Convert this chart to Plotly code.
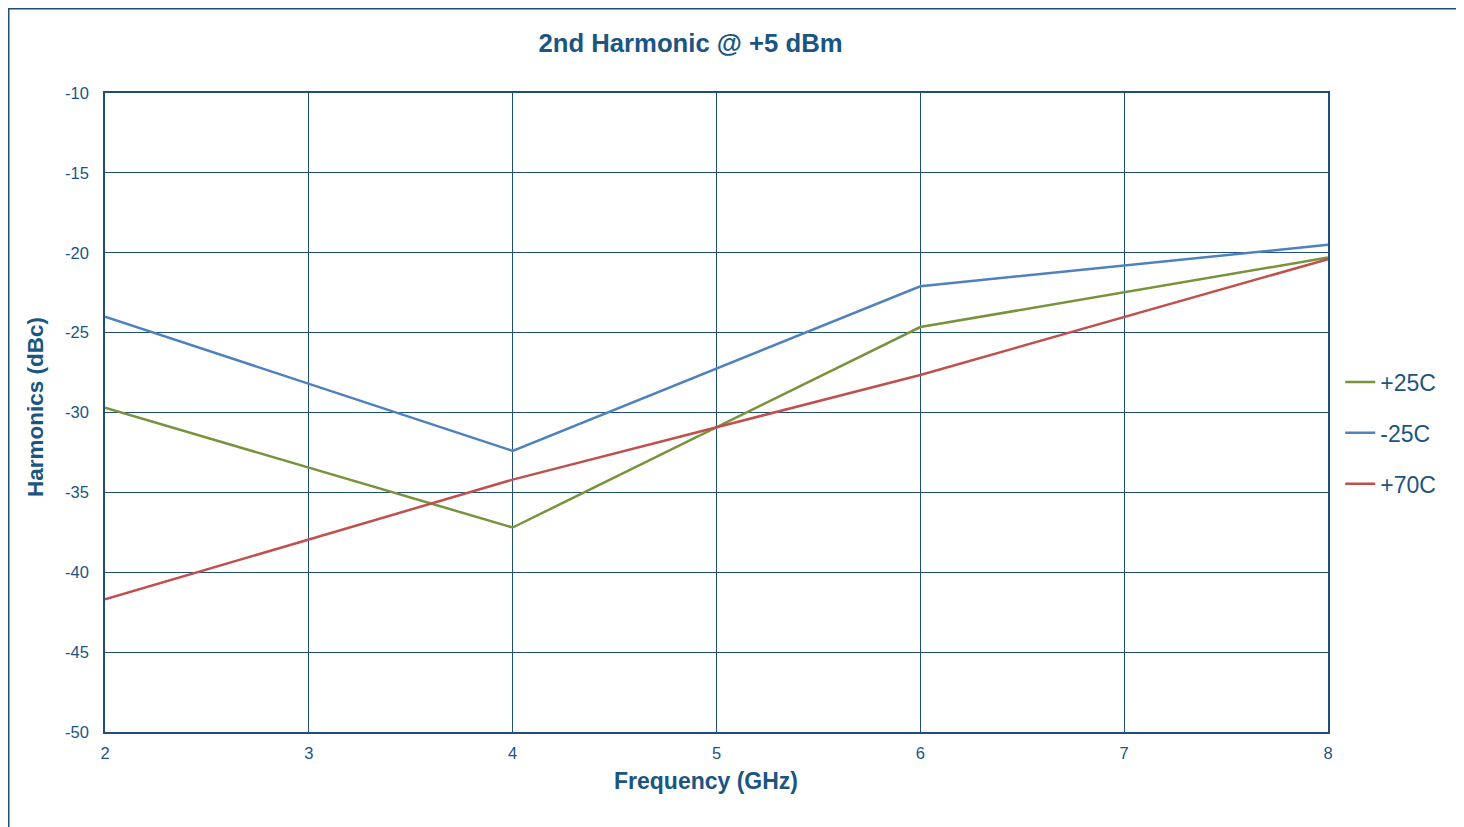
import plotly.graph_objects as go

freq = [2, 4, 6, 8]
p25 = [-29.7, -37.2, -24.65, -20.3]
m25 = [-24.0, -32.4, -22.1, -19.5]
p70 = [-41.7, -34.2, -27.65, -20.4]
names = ["+25C", "-25C", "+70C"]
colors = ["#77933C", "#4F81BD", "#C0504D"]
xticks = [2, 3, 4, 5, 6, 7, 8]
yticks = [-50, -45, -40, -35, -30, -25, -20, -15, -10]

TXT = "#1B5582"
GRID = "#1F4E79"

fig = go.Figure()
for i, (n, ys) in enumerate(zip(names, [p25, m25, p70])):
    fig.add_trace(go.Scatter(x=freq, y=ys, mode="lines", name=n, legendgroup=n,
                             line=dict(color=colors[i], width=2.5)))

W, H = 1456, 819
L, R, T, B = 97, 136, 85, 95
PW, PH = W - L - R, H - T - B
OFF = 8  # page offset of the figure


def px(xpage):
    return (xpage - OFF - L) / PW


def py(ypage):
    return (H - B - (ypage - OFF)) / PH


fig.update_layout(
    width=W, height=H,
    margin=dict(l=L, r=R, t=T, b=B),
    paper_bgcolor="white", plot_bgcolor="white",
    font=dict(family="Liberation Sans, Arial", color=TXT, size=16),
    title=dict(text="<b>2nd Harmonic @ +5 dBm</b>", x=(690.5 - 8) / W, xref="container",
               xanchor="center", y=1 - 35 / H, yanchor="middle", font=dict(size=25.7, color=TXT)),
    xaxis=dict(range=[2, 8], tickvals=xticks, ticktext=[str(v) for v in xticks],
               showgrid=True, gridcolor=GRID, gridwidth=1,
               showline=True, linecolor=GRID, linewidth=1.5, mirror=True, zeroline=False,
               ticks="outside", ticklen=5, tickcolor="rgba(0,0,0,0)", tickfont=dict(size=16.5)),
    yaxis=dict(range=[-50, -10], tickvals=yticks, ticktext=[str(v) for v in yticks],
               showgrid=True, gridcolor=GRID, gridwidth=1,
               showline=True, linecolor=GRID, linewidth=1.5, mirror=True, zeroline=False,
               ticks="outside", ticklen=11, tickcolor="rgba(0,0,0,0)", tickfont=dict(size=16.5)),
    legend=dict(x=1.01, xanchor="left", y=0.468, yanchor="middle", font=dict(size=23, color=TXT),
                tracegroupgap=18, itemwidth=30, bgcolor="rgba(0,0,0,0)"),
    showlegend=True,
)
fig.add_annotation(text="<b>Frequency (GHz)</b>", xref="paper", yref="paper",
                   x=px(705.5), y=py(781), xanchor="center", yanchor="middle",
                   showarrow=False, font=dict(size=23, color=TXT))
fig.add_annotation(text="<b>Harmonics (dBc)</b>", xref="paper", yref="paper",
                   x=px(35), y=py(407), xanchor="center", yanchor="middle", textangle=-90,
                   showarrow=False, font=dict(size=22.5, color=TXT))
# outer chart frame (figure pixel coords converted to paper fractions)
fx0, fx1, fy0 = 0.75, W - 4, 0.75
fig.add_shape(type="rect", xref="paper", yref="paper",
              x0=(fx0 - L) / PW, x1=(fx1 - L) / PW,
              y0=-0.3, y1=(H - B - fy0) / PH,
              line=dict(color=GRID, width=1.5), fillcolor="rgba(0,0,0,0)", layer="above")

fig.write_html("out.html")
